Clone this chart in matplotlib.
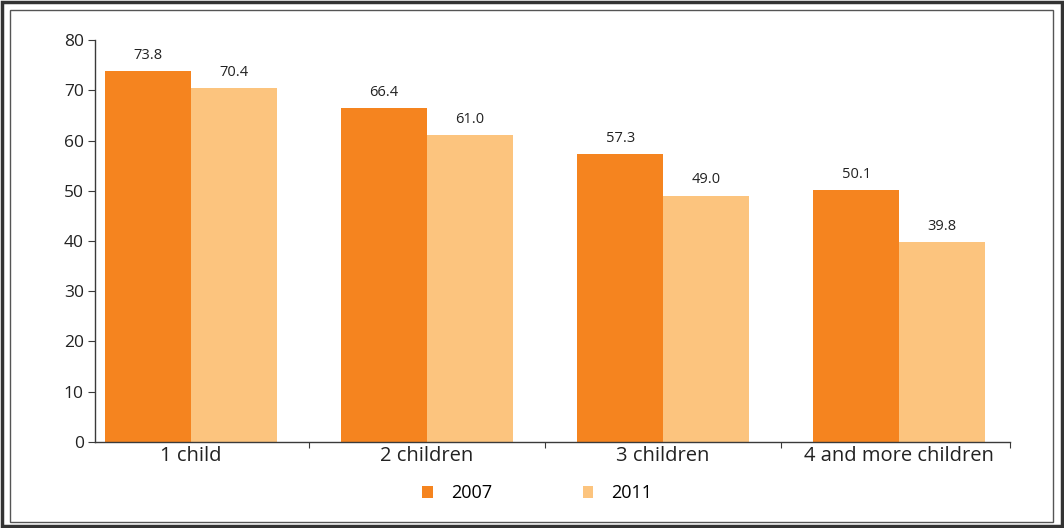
import matplotlib
matplotlib.use("Agg")
import matplotlib.pyplot as plt
import numpy as np
from matplotlib.patches import Rectangle

plt.rcParams['font.family'] = ['Open Sans', 'DejaVu Sans']

# data
categories = ["1 child", "2 children", "3 children", "4 and more children"]
years = ["2007", "2011"]
values_2007 = [73.8, 66.4, 57.3, 50.1]
values_2011 = [70.4, 61.0, 49.0, 39.8]
y_ticks = [0, 10, 20, 30, 40, 50, 60, 70, 80]

col_2007 = "#F5841F"
col_2011 = "#FCC47E"
axis_col = "#3a3a3a"

fig = plt.figure(figsize=(10.64, 5.28), dpi=100)
ax = fig.add_axes([0.0893, 0.1629, 0.86, 0.7613])

x = np.arange(len(categories))
w = 0.364
b1 = ax.bar(x - w / 2, values_2007, w, color=col_2007, label=years[0])
b2 = ax.bar(x + w / 2, values_2011, w, color=col_2011, label=years[1])

for bars, vals in [(b1, values_2007), (b2, values_2011)]:
    for r, v in zip(bars, vals):
        ax.annotate(f"{v:.1f}", (r.get_x() + r.get_width() / 2, v),
                    xytext=(0, 6), textcoords="offset points",
                    ha="center", va="bottom", fontsize=10.5, color="#222222")

ax.set_ylim(0, 80)
ax.set_xlim(-0.407, 3.47)
ax.set_yticks(y_ticks)
ax.tick_params(axis="y", direction="out", length=5, color=axis_col,
               labelsize=12.5, labelcolor="#222222", pad=3)

# category boundaries as ticks, labels at centers
ax.set_xticks([0.5, 1.5, 2.5, 3.47])
ax.set_xticklabels([])
ax.tick_params(axis="x", which="major", direction="out", length=4, color=axis_col)
ax.set_xticks(x, minor=True)
ax.set_xticklabels(categories, minor=True)
ax.tick_params(axis="x", which="minor", length=0, labelsize=14.5,
               labelcolor="#222222", pad=3)

for s in ["top", "right"]:
    ax.spines[s].set_visible(False)
for s in ["left", "bottom"]:
    ax.spines[s].set_color(axis_col)
    ax.spines[s].set_linewidth(1.0)

leg = fig.legend(handles=[b1, b2], labels=years, loc="center",
                 bbox_to_anchor=(0.505, 0.066), ncol=2, frameon=False,
                 fontsize=13, handlelength=0.6, handleheight=0.6,
                 columnspacing=5.0, handletextpad=1.0)

# double frame around the figure
fig.patches.append(Rectangle((0.002, 0.004), 0.996, 0.992, transform=fig.transFigure,
                             fill=False, edgecolor="#333333", linewidth=2.5))
fig.patches.append(Rectangle((0.009, 0.012), 0.981, 0.97, transform=fig.transFigure,
                             fill=False, edgecolor="#555555", linewidth=1.0))

fig.savefig("out.png", dpi=100)
